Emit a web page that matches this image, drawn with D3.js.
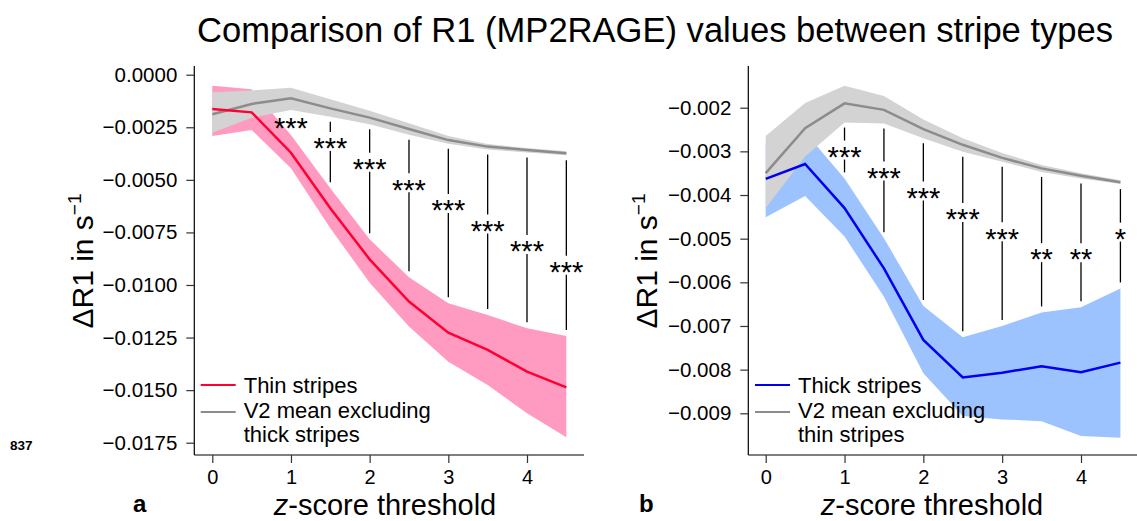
<!DOCTYPE html>
<html>
<head>
<meta charset="utf-8">
<script src="https://cdn.jsdelivr.net/npm/d3@7"></script>
<style>
  body { margin: 0; background: #fff; }
  svg { display: block; }
  text { font-family: "Liberation Sans", Arial, Helvetica, sans-serif; fill: #000; }
</style>
</head>
<body>
<svg id="chart" width="1137" height="521"></svg>
<script>
// z-score thresholds shared by both panels
const zThresholds = [0, 0.5, 1, 1.5, 2, 2.5, 3, 3.5, 4, 4.5];
const xTickValues = [0, 1, 2, 3, 4];

// Panel a: thin stripes vs. V2 mean excluding thick stripes (ΔR1, s^-1)
const thinMean  = [-0.00163, -0.00179, -0.00371, -0.00635, -0.00878, -0.01079, -0.01227, -0.01309, -0.01412, -0.01487];
const thinUpper = [-0.00052, -0.00069, -0.00287, -0.00540, -0.00783, -0.00963, -0.01087, -0.01143, -0.01206, -0.01243];
const thinLower = [-0.00292, -0.00263, -0.00445, -0.00730, -0.00989, -0.01198, -0.01365, -0.01476, -0.01610, -0.01724];
const v2ExThickMean  = [-0.00188, -0.00139, -0.00112, -0.00160, -0.00204, -0.00258, -0.00311, -0.00342, -0.00358, -0.00374];
const v2ExThickUpper = [-0.00084, -0.00075, -0.00062, -0.00117, -0.00171, -0.00231, -0.00292, -0.00330, -0.00349, -0.00364];
const v2ExThickLower = [-0.00276, -0.00205, -0.00168, -0.00200, -0.00236, -0.00285, -0.00328, -0.00356, -0.00370, -0.00383];
const thinSigZ      = [1, 1.5, 2, 2.5, 3, 3.5, 4, 4.5];
const thinSigStars  = ["***", "***", "***", "***", "***", "***", "***", "***"];
const thinSigLabelAt = [-0.00220, -0.00318, -0.00416, -0.00514, -0.00612, -0.00710, -0.00808, -0.00906];
const yTicksA = [0, -0.0025, -0.005, -0.0075, -0.01, -0.0125, -0.015, -0.0175];

// Panel b: thick stripes vs. V2 mean excluding thin stripes (ΔR1, s^-1)
const thickMean  = [-0.00363, -0.00329, -0.00430, -0.00568, -0.00732, -0.00818, -0.00807, -0.00792, -0.00806, -0.00784];
const thickUpper = [-0.00280, -0.00256, -0.00362, -0.00499, -0.00654, -0.00726, -0.00700, -0.00669, -0.00657, -0.00614];
const thickLower = [-0.00451, -0.00402, -0.00495, -0.00633, -0.00808, -0.00906, -0.00914, -0.00918, -0.00952, -0.00956];
const v2ExThinMean  = [-0.00350, -0.00247, -0.00190, -0.00205, -0.00249, -0.00285, -0.00315, -0.00339, -0.00356, -0.00371];
const v2ExThinUpper = [-0.00265, -0.00189, -0.00150, -0.00173, -0.00227, -0.00270, -0.00304, -0.00331, -0.00350, -0.00366];
const v2ExThinLower = [-0.00430, -0.00312, -0.00234, -0.00236, -0.00270, -0.00301, -0.00324, -0.00347, -0.00362, -0.00375];
const thickSigZ      = [1, 1.5, 2, 2.5, 3, 3.5, 4, 4.5];
const thickSigStars  = ["***", "***", "***", "***", "***", "**", "**", "*"];
const thickSigLabelAt = [-0.00297, -0.00345, -0.00391, -0.00440, -0.00484, -0.00532, -0.00532, -0.00485];
const yTicksB = [-0.002, -0.003, -0.004, -0.005, -0.006, -0.007, -0.008, -0.009];

const svg = d3.select("#chart");

svg.append("text")
  .attr("x", 655).attr("y", 42)
  .attr("text-anchor", "middle")
  .attr("font-size", 35.5)
  .attr("textLength", 916)
  .attr("lengthAdjust", "spacingAndGlyphs")
  .text("Comparison of R1 (MP2RAGE) values between stripe types");

svg.append("text")
  .attr("x", 10).attr("y", 450)
  .attr("font-size", 13.5).attr("font-weight", "bold")
  .text("837");

function drawPanel(p) {
  const g = svg.append("g");
  const x = p.x, y = p.y;
  const rows = zThresholds.map((z, i) => ({
    z, mean: p.mean[i], hi: p.upper[i], lo: p.lower[i],
    gMean: p.gMean[i], gHi: p.gUpper[i], gLo: p.gLower[i]
  }));

  const band = (hiKey, loKey) => d3.area()
    .x(d => x(d.z)).y0(d => y(d[loKey])).y1(d => y(d[hiKey]));
  const line = key => d3.line().x(d => x(d.z)).y(d => y(d[key]));

  // confidence bands, grey reference band on top
  g.append("path").attr("d", band("hi", "lo")(rows)).attr("fill", p.bandColor);
  g.append("path").attr("d", band("gHi", "gLo")(rows)).attr("fill", "#d3d3d3");

  // significance markers between the two curves
  const gap = 9.5;
  p.sigZ.forEach((z, k) => {
    const i = zThresholds.indexOf(z);
    const top = y(rows[i].gLo) + 5;
    const bottom = y(rows[i].hi) - 6;
    const ly = y(p.sigAt[k]);
    [[top, ly - gap], [ly + gap, bottom]].forEach(([a, b]) => {
      if (b > a) {
        g.append("line")
          .attr("x1", x(z)).attr("x2", x(z))
          .attr("y1", a).attr("y2", b)
          .attr("stroke", "#000").attr("stroke-width", 1.3);
      }
    });
    g.append("text")
      .attr("x", x(z)).attr("y", ly)
      .attr("dy", "0.58em")
      .attr("text-anchor", "middle")
      .attr("font-size", 29)
      .text(p.sigStars[k]);
  });

  // mean curves
  g.append("path").attr("d", line("gMean")(rows))
    .attr("fill", "none").attr("stroke", "#8c8c8c").attr("stroke-width", 2.5);
  g.append("path").attr("d", line("mean")(rows))
    .attr("fill", "none").attr("stroke", p.lineColor).attr("stroke-width", 2.5);

  // axes
  g.append("line").attr("x1", p.axisX).attr("x2", p.axisX)
    .attr("y1", 66).attr("y2", 455).attr("stroke", "#000").attr("stroke-width", 1.2);
  g.append("line").attr("x1", p.axisX).attr("x2", p.axisEnd)
    .attr("y1", 455).attr("y2", 455).attr("stroke", "#000").attr("stroke-width", 1.2);

  const yAxis = g.append("g")
    .attr("transform", `translate(${p.axisX},0)`)
    .call(d3.axisLeft(y).tickValues(p.yTicks).tickFormat(d3.format(p.yFormat))
      .tickSize(8).tickPadding(9));
  yAxis.select(".domain").remove();
  yAxis.selectAll("line").attr("stroke", "#333").attr("stroke-width", 1.2);
  yAxis.selectAll("text").attr("font-size", 20.5).attr("font-family", "Liberation Sans, Arial, sans-serif").attr("fill", "#000");

  const xAxis = g.append("g")
    .attr("transform", "translate(0,455)")
    .call(d3.axisBottom(x).tickValues(xTickValues).tickFormat(d3.format("d"))
      .tickSize(8).tickPadding(7));
  xAxis.select(".domain").remove();
  xAxis.selectAll("line").attr("stroke", "#333").attr("stroke-width", 1.2);
  xAxis.selectAll("text").attr("font-size", 20).attr("font-family", "Liberation Sans, Arial, sans-serif").attr("fill", "#000");

  // axis titles
  const xt = g.append("text")
    .attr("x", p.xTitleX).attr("y", 514.8)
    .attr("text-anchor", "middle").attr("font-size", 29);
  xt.append("tspan").attr("font-style", "italic").text("z");
  xt.append("tspan").text("-score threshold");

  const yt = g.append("text")
    .attr("transform", `translate(${p.yTitleX},261) rotate(-90)`)
    .attr("text-anchor", "middle").attr("font-size", 30);
  yt.append("tspan").text("ΔR1 in s");
  yt.append("tspan").attr("font-size", 19).attr("dy", -12).text("−1");

  // panel letter
  g.append("text").attr("x", p.letterX).attr("y", 512)
    .attr("font-size", 24).attr("font-weight", "bold").text(p.letter);

  // legend
  const lg = g.append("g");
  lg.append("line").attr("x1", p.legX).attr("x2", p.legX + 35)
    .attr("y1", 385).attr("y2", 385).attr("stroke", p.lineColor).attr("stroke-width", 2);
  lg.append("line").attr("x1", p.legX).attr("x2", p.legX + 35)
    .attr("y1", 412).attr("y2", 412).attr("stroke", "#8c8c8c").attr("stroke-width", 2);
  p.legendText.forEach((t, i) => {
    lg.append("text").attr("x", p.legX + 43).attr("y", 393 + i * 24.5)
      .attr("font-size", 22).text(t);
  });
}

drawPanel({
  x: d3.scaleLinear().domain([0, 4]).range([212.3, 527]),
  y: d3.scaleLinear().domain([0, -0.0175]).range([74.7, 442.7]),
  mean: thinMean, upper: thinUpper, lower: thinLower,
  gMean: v2ExThickMean, gUpper: v2ExThickUpper, gLower: v2ExThickLower,
  sigZ: thinSigZ, sigStars: thinSigStars, sigAt: thinSigLabelAt,
  yTicks: yTicksA, yFormat: ".4f",
  bandColor: "#ff9ac1", lineColor: "#ff0033",
  axisX: 194.3, axisEnd: 584,
  xTitleX: 385, yTitleX: 93, letterX: 133, letter: "a",
  legX: 200.7,
  legendText: ["Thin stripes", "V2 mean excluding", "thick stripes"]
});

drawPanel({
  x: d3.scaleLinear().domain([0, 4]).range([765.7, 1081]),
  y: d3.scaleLinear().domain([-0.002, -0.009]).range([107.7, 413.3]),
  mean: thickMean, upper: thickUpper, lower: thickLower,
  gMean: v2ExThinMean, gUpper: v2ExThinUpper, gLower: v2ExThinLower,
  sigZ: thickSigZ, sigStars: thickSigStars, sigAt: thickSigLabelAt,
  yTicks: yTicksB, yFormat: ".3f",
  bandColor: "#9dc3ff", lineColor: "#0000ee",
  axisX: 748.3, axisEnd: 1137,
  xTitleX: 932, yTitleX: 657, letterX: 639, letter: "b",
  legX: 755,
  legendText: ["Thick stripes", "V2 mean excluding", "thin stripes"]
});
</script>
</body>
</html>
